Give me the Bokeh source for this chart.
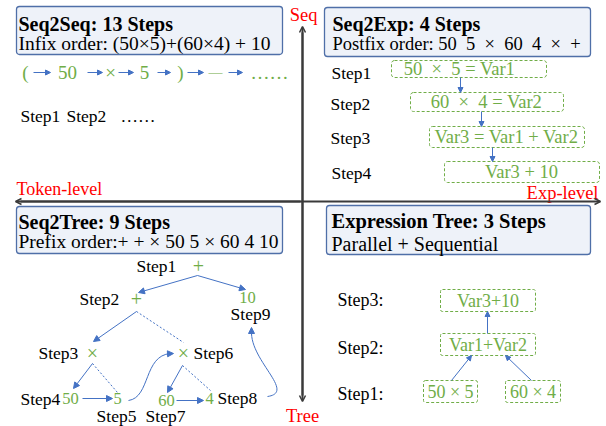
from bokeh.plotting import figure
from bokeh.models import Range1d, ColumnDataSource, Arrow, NormalHead, OpenHead
from bokeh.core.properties import value
from bokeh.embed import file_html
from bokeh.resources import INLINE

NB = "\u00a0"  # non-breaking space keeps the wide spacing of the original

# ---------------- content ----------------
titles = ["Seq2Seq: 13 Steps", "Seq2Exp: 4 Steps", "Seq2Tree: 9 Steps", "Expression Tree: 3 Steps"]
subtitles = ["Infix order: (50×5)+(60×4) + 10",
             f"Postfix order: 50{NB}{NB}5{NB}{NB}×{NB}{NB}60{NB}{NB}4{NB}{NB}×{NB}{NB}+",
             "Prefix order:+ + × 50 5 × 60 4 10",
             "Parallel + Sequential"]
axis_labels = ["Seq", "Tree", "Token-level", "Exp-level"]
seq_tokens = ["(", "50", "×", "5", ")", "—", "……"]
seq_steps = ["Step1", "Step2", "……"]
exp_steps = ["Step1", "Step2", "Step3", "Step4"]
exp_exprs = [f"50{NB}{NB}×{NB}{NB}5 = Var1", f"60{NB}{NB}×{NB}{NB}4 = Var2",
             "Var3 = Var1 + Var2", "Var3 + 10"]
tree_ops = ["+", "+", "×", "×"]
tree_nums = ["10", "50", "5", "60", "4"]
tree_steps = ["Step1", "Step2", "Step3", "Step4", "Step5", "Step6", "Step7", "Step8", "Step9"]
et_steps = ["Step3:", "Step2:", "Step1:"]
et_exprs = ["Var3+10", "Var1+Var2", "50 × 5", "60 × 4"]

# ---------------- layout ----------------
FONT = value("Liberation Serif")
GREEN = "#70ad47"
BLUE = "#4472c4"
RED = "#ff0000"
AXIS = "#3a3a3a"

# 1 data unit = 1 screen pixel
p = figure(width=606, height=426, output_backend="svg", toolbar_location=None,
           x_range=Range1d(0, 606), y_range=Range1d(426, 0), min_border=0)
p.axis.visible = False
p.grid.visible = False
p.outline_line_color = None
p.background_fill_color = "white"


def txt(xs, ys, texts, color="black", size="17.5px", align="left", style="normal"):
    src = ColumnDataSource(dict(x=xs, y=ys, t=texts))
    p.text(x="x", y="y", text="t", source=src, text_font=FONT, text_font_size=size,
           text_color=color, text_align=align, text_baseline="middle", text_font_style=style)


def arrow(x0, y0, x1, y1, dashed=False, head=True, color=BLUE, size=6):
    kw = dict(x_start=x0, y_start=y0, x_end=x1, y_end=y1, line_color=color, line_width=1)
    if dashed:
        kw["line_dash"] = "2 2"
    kw["end"] = NormalHead(size=size, fill_color=color, line_color=color) if head else None
    p.add_layout(Arrow(**kw))


# header boxes
box_l = [16, 324, 16, 326]
box_r = [282, 590, 282, 590]
box_t = [6, 7, 206, 205]
box_b = [54, 56, 253, 254]
p.quad(left=box_l, right=box_r, top=box_t, bottom=box_b, fill_color="#eef2f9",
       line_color="#4f6fa8", line_width=1.3, border_radius=3)
txt([18, 332, 18], [23, 23, 221], titles[:3], size="20px", style="bold")
txt([331], [220], titles[3:], size="20.5px", style="bold")
txt([18, 18], [42.5, 240.5], [subtitles[0], subtitles[2]], size="19.5px")
txt([332], [43.5], subtitles[1:2], size="18.5px")
txt([331], [243], subtitles[3:], size="20px")

# axes
for xs, ys, xe, ye in [(302, 32, 302, 401), (302, 395, 302, 26),
                       (300, 201, 15, 201), (20, 201, 600, 201)]:
    p.add_layout(Arrow(x_start=xs, y_start=ys, x_end=xe, y_end=ye, line_color=AXIS,
                       line_width=2, end=OpenHead(size=6, line_color=AXIS, line_width=1.5)))
txt([303, 302], [14, 415], axis_labels[:2], color=RED, size="18.5px", align="center")
txt([16], [188], axis_labels[2:3], color=RED, size="18px")
txt([598], [192], axis_labels[3:], color=RED, size="18.5px", align="right")

# Seq2Seq row
txt([25, 67, 110, 144, 180], [72] * 5, seq_tokens[:5], color=GREEN, size="19px", align="center")
txt([215], [72], seq_tokens[5:6], color=GREEN, size="14px", align="center")
txt([269], [72], seq_tokens[6:], color=GREEN, size="19px", align="center")
for a, b in [(33, 50), (87, 102), (118, 133), (157, 170), (187, 203), (228, 242)]:
    arrow(a, 72, b, 72, size=5)
txt([20, 66, 120], [115] * 3, seq_steps, size="17.5px")

# Seq2Exp
txt([331, 330, 330, 331], [72, 103, 137, 172], exp_steps, size="17.5px")
p.quad(left=[391, 410, 429, 444], right=[546, 563, 584, 599], top=[60, 92, 126, 161],
       bottom=[77, 111, 147, 182], fill_color=None, line_color=GREEN, line_width=1,
       line_dash="3 2", border_radius=3)
txt([459, 486, 506, 521], [68.5, 101.5, 136.5, 171.5], exp_exprs, color=GREEN, size="18.5px",
    align="center")
for x, a, b in [(460, 77, 92), (481, 111, 126), (492, 147, 161)]:
    arrow(x, a, x, b, size=5)

# Seq2Tree
txt([198, 136, 92, 183], [265, 298, 352, 352], tree_ops, color=GREEN, size="20px", align="center")
txt([247, 70, 117, 166, 209], [297, 398, 398, 400, 398], tree_nums, color=GREEN, size="16.5px",
    align="center")
txt([136, 79, 38, 20], [265, 298, 352, 398], tree_steps[0:4])
txt([116], [415], tree_steps[4:5], align="center")
txt([193], [352], tree_steps[5:6])
txt([165], [415], tree_steps[6:7], align="center")
txt([217], [397], tree_steps[7:8])
txt([250], [313], tree_steps[8:9], align="center")

arrow(197, 275, 138, 292)
arrow(197, 275, 245, 289)
arrow(136, 311, 93, 341)
arrow(136, 311, 183, 342, dashed=True, head=False)
arrow(92, 363, 73, 388)
arrow(92, 363, 117, 392, dashed=True, head=False)
arrow(82, 398, 112, 398)
arrow(182, 365, 167, 392)
arrow(182, 365, 210, 390, dashed=True, head=False)
arrow(176, 400, 203, 400)
p.bezier(x0=[128, 267], y0=[400, 396], x1=[170, 251], y1=[353, 333],
         cx0=[150, 295], cy0=[397, 392], cx1=[143, 252], cy1=[355, 362],
         line_color=BLUE, line_width=1)
arrow(167, 353.3, 173, 353)
arrow(251, 334, 251, 327)

# Expression tree
txt([337, 337, 337], [299, 347, 393], et_steps, size="18px")
el = [440, 440, 423, 505]
er = [535, 535, 477, 560]
et = [289, 333, 380, 380]
eb = [311, 355, 402, 402]
p.quad(left=el, right=er, top=et, bottom=eb, fill_color=None, line_color=GREEN,
       line_width=1, line_dash="3 2", border_radius=2)
txt([(a + b) / 2 for a, b in zip(el, er)], [(a + b) / 2 for a, b in zip(et, eb)], et_exprs,
    color=GREEN, size="18px", align="center")
arrow(487, 333, 487, 311, size=5)
arrow(451, 380, 471, 355, size=5)
arrow(531, 380, 505, 355, size=5)

open("out.html", "w").write(file_html(p, INLINE))
